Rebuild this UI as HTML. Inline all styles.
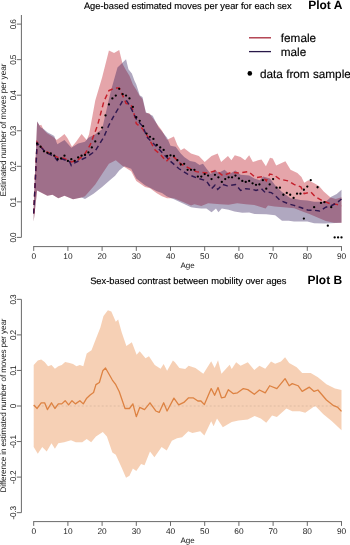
<!DOCTYPE html><html><head><meta charset="utf-8"><style>html,body{margin:0;padding:0;background:#fff;width:350px;height:545px;overflow:hidden}svg{display:block;will-change:transform}text{font-family:"Liberation Sans", sans-serif;text-rendering:geometricPrecision}</style></head><body>
<svg width="350" height="545" viewBox="0 0 350 545">
<rect width="350" height="545" fill="#fff"/>
<polygon points="33.7,205.41 37.12,121.86 39.51,125.42 41.22,124.71 43.62,129.68 47.38,133.59 52.51,136.44 54.22,137.86 56.61,139.99 61.06,136.79 64.48,133.95 67.56,138.22 72,146.75 76.11,141.77 81.58,133.95 86.71,139.99 89.1,134.31 95.26,100.53 102.1,77.43 108.94,50.41 114.07,52.9 119.2,50.05 122.62,63.92 126.04,70.32 129.46,75.65 132.88,84.53 136.3,89.87 139.72,95.91 142.46,98.75 145.88,112.98 149.3,113.33 156.82,123.64 161.95,130.39 167.08,139.64 173.92,136.44 177.34,144.97 180.76,150.3 184.18,148.17 191.02,153.5 198.89,155.99 204.7,162.03 211.54,155.99 217.7,153.5 221.12,162.03 227.96,155.99 231.38,160.26 234.8,155.28 240.61,157.06 245.06,160.26 249.16,155.28 252.92,162.03 258.05,160.26 261.47,159.55 265.92,166.3 270.02,157.77 272.76,158.48 276.18,165.59 285.41,161.32 290.54,169.86 297.38,173.05 301.49,176.97 304.22,182.65 308.33,180.16 315.17,183.72 319.27,186.21 323.72,191.54 330.56,197.58 335.69,199.01 341.5,197.23 341.5,222.82 333.98,222.82 325.77,221.05 317.56,217.49 309.35,213.94 300.46,210.74 294.3,208.25 283.36,207.18 274.47,206.47 267.97,205.41 265.58,208.6 254.29,205.05 245.74,204.34 237.19,203.27 228.64,204.69 220.09,204.34 208.12,203.27 201.28,206.12 194.44,204.34 191.02,205.41 182.47,201.85 173.92,198.3 167.08,198.3 161.95,196.16 156.82,193.32 149.98,188.34 145.02,186.92 136.3,180.88 131.17,171.28 126.04,168.08 121.94,165.41 115.78,160.26 108.94,163.81 102.1,174.12 95.26,184.43 85,196.3 81.58,197.58 73.03,199.36 64.48,195.81 58.32,198.3 52.51,194.74 47.38,195.81 40.54,192.25 37.12,190.47 33.7,221.4" fill="rgba(190,30,43,0.40)"/>
<polygon points="33.7,205.41 37.12,121.15 40.54,127.2 43.62,128.97 47.38,132.17 52.51,135.02 54.22,136.08 57.3,144.26 64.48,139.99 71.32,147.81 78.16,143.55 85,141.77 88.42,137.86 95.26,134.31 102.1,129.33 110.65,91.65 117.49,67.47 126.04,59.29 128.43,69.25 131.85,73.51 134.59,80.98 136.3,84.53 139.72,95.2 142.46,96.98 145.88,112.26 152.72,115.82 158.53,127.2 167.08,137.86 170.5,145.68 175.63,146.75 180.76,153.5 184.18,157.06 189.99,160.97 195.12,162.03 199.57,164.88 202.99,163.81 206.41,168.43 210.86,174.12 214.96,169.5 218.38,173.05 224.54,169.86 229.32,174.12 235.48,170.57 240.61,174.83 249.16,175.54 254.29,178.39 259.76,180.16 263.18,176.61 270.02,178.39 275.15,185.14 281.99,191.9 290.54,198.3 297.04,199.36 300.46,200.07 307.3,200.43 314.14,201.85 320.98,201.85 325.77,201.85 331.24,196.87 336.71,194.03 341.5,189.76 341.5,222.82 324.4,223.54 314.14,223.18 307.3,221.4 300.46,221.4 293.96,221.4 288.83,220.69 281.99,220.69 275.15,215.36 266.26,214.29 254.63,213.94 249.16,212.52 242.32,212.87 234.45,211.45 228.64,209.67 221.8,208.6 218.38,212.16 215.99,208.6 211.54,212.16 206.41,208.6 201.28,208.6 196.15,207.89 191.02,207.18 182.47,203.27 173.92,199.36 167.08,196.52 161.95,192.96 156.82,191.19 149.98,187.63 145.02,185.14 136.3,178.39 131.17,168.79 124.33,166.3 119.2,170.57 115.1,175.72 108.94,180.88 102.1,186.92 93.55,193.67 85,199.01 81.58,197.58 73.03,199.36 64.48,195.81 58.32,198.3 52.51,194.74 47.38,195.81 40.54,192.25 37.12,190.47 33.7,221.4" fill="rgba(42,20,85,0.37)"/>
<polyline points="33.7,213.58 37.12,142.13 43.96,150.3 50.8,153.86 57.64,157.41 64.48,158.48 71.32,162.03 78.16,159.9 85,153.86 90.13,144.97 97.65,125.06 103.81,101.6 108.94,90.58 114.75,88.09 119.2,88.09 122.62,95.2 126.04,103.38 131.17,105.15 133.56,111.91 136.3,123.64 142.46,128.62 147.59,136.44 155.11,149.95 160.24,154.21 166.4,161.32 170.5,157.06 173.92,157.06 180.76,163.81 187.6,167.37 196.15,171.63 207.44,173.05 215.99,170.57 222.83,175.54 231.38,172.34 238.9,173.05 248.48,171.63 255.66,177.68 262.84,176.61 266.26,180.88 269.68,174.12 273.78,174.83 279.6,179.1 288.15,180.88 293.96,184.43 300.8,186.92 304.22,193.67 310.72,191.9 315.51,196.87 322.69,200.78 329.87,203.63 336.71,204.34 341.5,205.76" fill="none" stroke="#c4202c" stroke-width="1.45" stroke-dasharray="5,3.5"/>
<polyline points="33.7,213.58 37.12,143.19 46.35,152.79 54.22,156.35 57.3,160.61 61.06,158.48 69.61,161.68 71.32,165.59 74.74,162.75 81.58,159.55 86.71,157.06 95.26,151.01 103.81,137.15 108.94,125.06 114.07,115.46 119.2,106.93 122.62,100.89 126.72,100.89 129.46,105.15 132.88,111.91 136.3,119.02 142.46,126.13 147.59,137.86 156.82,146.75 163.66,154.21 170.5,161.32 179.05,168.79 187.6,174.12 196.15,177.68 206.41,180.88 211.54,188.7 214.96,185.14 217.7,189.41 222.83,184.43 227.27,185.85 235.48,184.43 240.61,190.47 245.74,188.7 252.58,189.41 256,190.47 261.47,188.7 264.55,191.9 271.39,192.61 275.15,195.45 280.28,200.43 288.83,203.98 293.96,205.41 300.8,207.54 307.64,210.03 314.82,210.38 319.61,211.09 325.77,207.18 331.24,205.76 336.71,202.92 341.5,199.01" fill="none" stroke="#301850" stroke-width="1.45" stroke-dasharray="5,3.5"/>
<g fill="#000"><circle cx="37.12" cy="143.55" r="1.15"/><circle cx="40.54" cy="146.75" r="1.15"/><circle cx="43.96" cy="151.37" r="1.15"/><circle cx="47.38" cy="152.79" r="1.15"/><circle cx="50.8" cy="153.5" r="1.15"/><circle cx="54.22" cy="155.63" r="1.15"/><circle cx="57.64" cy="159.19" r="1.15"/><circle cx="61.06" cy="158.48" r="1.15"/><circle cx="64.48" cy="155.63" r="1.15"/><circle cx="67.9" cy="160.97" r="1.15"/><circle cx="71.32" cy="159.19" r="1.15"/><circle cx="74.74" cy="160.97" r="1.15"/><circle cx="78.16" cy="157.41" r="1.15"/><circle cx="81.58" cy="155.63" r="1.15"/><circle cx="85" cy="154.92" r="1.15"/><circle cx="88.42" cy="152.44" r="1.15"/><circle cx="91.84" cy="147.46" r="1.15"/><circle cx="95.26" cy="141.42" r="1.15"/><circle cx="98.68" cy="133.59" r="1.15"/><circle cx="102.1" cy="127.55" r="1.15"/><circle cx="105.52" cy="115.46" r="1.15"/><circle cx="108.94" cy="104.44" r="1.15"/><circle cx="112.36" cy="98.4" r="1.15"/><circle cx="115.78" cy="95.56" r="1.15"/><circle cx="119.2" cy="88.8" r="1.15"/><circle cx="122.62" cy="94.13" r="1.15"/><circle cx="126.04" cy="95.56" r="1.15"/><circle cx="129.46" cy="98.4" r="1.15"/><circle cx="132.88" cy="106.93" r="1.15"/><circle cx="136.3" cy="117.24" r="1.15"/><circle cx="139.72" cy="120.8" r="1.15"/><circle cx="143.14" cy="126.13" r="1.15"/><circle cx="146.56" cy="133.59" r="1.15"/><circle cx="149.98" cy="136.79" r="1.15"/><circle cx="153.4" cy="138.93" r="1.15"/><circle cx="156.82" cy="144.97" r="1.15"/><circle cx="160.24" cy="147.46" r="1.15"/><circle cx="163.66" cy="149.95" r="1.15"/><circle cx="167.08" cy="155.99" r="1.15"/><circle cx="170.5" cy="155.28" r="1.15"/><circle cx="173.92" cy="155.99" r="1.15"/><circle cx="177.34" cy="160.26" r="1.15"/><circle cx="180.76" cy="164.52" r="1.15"/><circle cx="184.18" cy="163.81" r="1.15"/><circle cx="187.6" cy="169.86" r="1.15"/><circle cx="191.02" cy="169.86" r="1.15"/><circle cx="194.44" cy="169.86" r="1.15"/><circle cx="197.86" cy="176.61" r="1.15"/><circle cx="201.28" cy="176.61" r="1.15"/><circle cx="204.7" cy="174.12" r="1.15"/><circle cx="208.12" cy="175.54" r="1.15"/><circle cx="211.54" cy="179.1" r="1.15"/><circle cx="214.96" cy="174.83" r="1.15"/><circle cx="218.38" cy="177.32" r="1.15"/><circle cx="221.8" cy="181.94" r="1.15"/><circle cx="225.22" cy="179.1" r="1.15"/><circle cx="228.64" cy="177.32" r="1.15"/><circle cx="232.06" cy="177.32" r="1.15"/><circle cx="235.48" cy="175.54" r="1.15"/><circle cx="238.9" cy="178.39" r="1.15"/><circle cx="242.32" cy="180.88" r="1.15"/><circle cx="245.74" cy="181.94" r="1.15"/><circle cx="249.16" cy="180.88" r="1.15"/><circle cx="252.58" cy="183.36" r="1.15"/><circle cx="256" cy="184.79" r="1.15"/><circle cx="259.42" cy="184.43" r="1.15"/><circle cx="262.84" cy="180.16" r="1.15"/><circle cx="266.26" cy="188.7" r="1.15"/><circle cx="269.68" cy="184.43" r="1.15"/><circle cx="273.1" cy="179.1" r="1.15"/><circle cx="276.52" cy="187.63" r="1.15"/><circle cx="279.94" cy="187.63" r="1.15"/><circle cx="283.36" cy="194.74" r="1.15"/><circle cx="286.78" cy="192.96" r="1.15"/><circle cx="290.2" cy="194.74" r="1.15"/><circle cx="293.62" cy="197.94" r="1.15"/><circle cx="297.04" cy="193.67" r="1.15"/><circle cx="300.46" cy="193.67" r="1.15"/><circle cx="303.88" cy="189.76" r="1.15"/><circle cx="307.3" cy="186.56" r="1.15"/><circle cx="310.72" cy="180.16" r="1.15"/><circle cx="314.14" cy="207.18" r="1.15"/><circle cx="317.56" cy="187.27" r="1.15"/><circle cx="320.98" cy="202.92" r="1.15"/><circle cx="324.4" cy="202.21" r="1.15"/><circle cx="327.82" cy="225.67" r="1.15"/><circle cx="331.24" cy="207.18" r="1.15"/><circle cx="334.66" cy="237.4" r="1.15"/><circle cx="338.08" cy="237.4" r="1.15"/><circle cx="341.5" cy="237.4" r="1.15"/><circle cx="303.88" cy="218.56" r="1.15"/></g>
<g stroke="#6a6a6a" stroke-width="1" fill="none">
<line x1="21.4" y1="15" x2="21.4" y2="237.4"/>
<line x1="16.8" y1="237.4" x2="21.4" y2="237.4"/>
<line x1="16.8" y1="201.85" x2="21.4" y2="201.85"/>
<line x1="16.8" y1="166.3" x2="21.4" y2="166.3"/>
<line x1="16.8" y1="130.75" x2="21.4" y2="130.75"/>
<line x1="16.8" y1="95.2" x2="21.4" y2="95.2"/>
<line x1="16.8" y1="59.65" x2="21.4" y2="59.65"/>
<line x1="16.8" y1="24.1" x2="21.4" y2="24.1"/>
<line x1="33.7" y1="246.6" x2="341.5" y2="246.6"/>
<line x1="33.7" y1="246.1" x2="33.7" y2="250.9"/>
<line x1="67.9" y1="246.1" x2="67.9" y2="250.9"/>
<line x1="102.1" y1="246.1" x2="102.1" y2="250.9"/>
<line x1="136.3" y1="246.1" x2="136.3" y2="250.9"/>
<line x1="170.5" y1="246.1" x2="170.5" y2="250.9"/>
<line x1="204.7" y1="246.1" x2="204.7" y2="250.9"/>
<line x1="238.9" y1="246.1" x2="238.9" y2="250.9"/>
<line x1="273.1" y1="246.1" x2="273.1" y2="250.9"/>
<line x1="307.3" y1="246.1" x2="307.3" y2="250.9"/>
<line x1="341.5" y1="246.1" x2="341.5" y2="250.9"/>
</g>
<g font-size="8.3" fill="#1a1a1a" text-anchor="middle"><text transform="translate(15.5,237.4) rotate(-90)" textLength="10.2">0.0</text><text transform="translate(15.5,201.85) rotate(-90)" textLength="10.2">0.1</text><text transform="translate(15.5,166.3) rotate(-90)" textLength="10.2">0.2</text><text transform="translate(15.5,130.75) rotate(-90)" textLength="10.2">0.3</text><text transform="translate(15.5,95.2) rotate(-90)" textLength="10.2">0.4</text><text transform="translate(15.5,59.65) rotate(-90)" textLength="10.2">0.5</text><text transform="translate(15.5,24.1) rotate(-90)" textLength="10.2">0.6</text><text x="33.7" y="258.8">0</text><text x="67.9" y="258.8">10</text><text x="102.1" y="258.8">20</text><text x="136.3" y="258.8">30</text><text x="170.5" y="258.8">40</text><text x="204.7" y="258.8">50</text><text x="238.9" y="258.8">60</text><text x="273.1" y="258.8">70</text><text x="307.3" y="258.8">80</text><text x="341.5" y="258.8">90</text></g>
<text x="187.6" y="268.4" font-size="8" fill="#1a1a1a" text-anchor="middle">Age</text>
<text transform="translate(6,130) rotate(-90)" font-size="8.3" textLength="133" fill="#1a1a1a" text-anchor="middle">Estimated number of moves per year</text>
<text x="187.8" y="8.7" font-size="9.3" fill="#000" stroke="#000" stroke-width="0.15" text-anchor="middle">Age-based estimated moves per year for each sex</text>
<text x="308.2" y="8.6" font-size="12" font-weight="bold" fill="#000">Plot A</text>
<line x1="249" y1="37.8" x2="271" y2="37.8" stroke="#a82838" stroke-width="1.3"/>
<line x1="249" y1="51.6" x2="271" y2="51.6" stroke="#281848" stroke-width="1.3"/>
<circle cx="249.8" cy="73.4" r="2.3" fill="#000"/>
<g font-size="11.75" fill="#000" stroke="#000" stroke-width="0.15"><text x="280.8" y="42.1">female</text><text x="280.8" y="55.5">male</text><text x="260" y="77.5">data from sample</text></g>
<polygon points="33.7,365.12 37.8,360.5 41.22,359.43 44.64,361.92 48.06,366.18 51.48,365.12 54.9,368.67 58.32,366.18 61.74,365.12 65.16,361.92 69.61,362.98 73.03,364.05 76.45,366.18 79.87,365.12 83.29,366.18 86.71,353.39 91.5,350.19 95.94,338.81 100.39,327.43 103.47,316.06 107.91,310.37 111.33,311.44 115.78,321.75 118.17,319.61 121.59,332.06 126.38,345.92 131.85,342.37 136.64,354.81 139.72,351.25 145.53,358.36 148.95,356.23 154.77,365.12 160.58,368.67 163.66,364.05 167.08,370.81 172.89,360.5 174.95,362.27 179.39,367.96 185.21,369.03 188.63,365.83 195.47,367.96 203.33,373.65 211.2,361.21 214.62,367.96 218.04,360.14 221.46,373.65 229.67,364.76 231.72,369.03 236.16,362.27 240.61,365.83 247.79,362.27 254.29,370.09 259.42,365.83 265.23,368.67 271.05,361.56 275.15,363.7 280.97,361.56 285.07,357.3 289.17,362.98 296.7,367.25 302.17,372.94 310.72,372.94 317.9,377.2 326.45,384.31 335,388.58 341.5,390 341.5,430.17 331.92,421.29 323.37,414.18 315.17,405.64 305.25,412.75 299.78,411.33 292.25,411.33 286.44,408.49 276.86,417.02 272.07,415.6 266.26,422.71 260.79,418.44 254.63,415.95 247.79,419.51 238.56,420.58 231.72,422 222.83,427.33 217.01,418.44 213.59,426.26 211.2,421.29 204.36,435.51 200.25,431.24 192.39,433.02 188.28,431.24 182.13,437.28 177,438.35 171.87,440.84 166.74,450.44 161.61,446.88 154.43,457.19 149.98,451.5 144.51,465.37 141.09,463.95 136.3,471.06 132.88,468.57 129.46,475.68 126.04,477.81 121.59,467.5 115.78,454.7 112.36,452.57 106.89,436.57 102.78,431.95 95.94,436.57 91.16,442.26 86.71,439.06 82.26,442.26 75.77,442.26 70.98,440.13 64.14,442.26 58.32,443.33 54.9,448.66 51.48,443.33 46.7,451.5 42.25,446.88 37.8,453.64 33.7,446.88" fill="rgba(235,150,92,0.45)"/>
<line x1="33.7" y1="406" x2="341.5" y2="406" stroke="#d9b8a0" stroke-width="0.8" stroke-dasharray="2,2"/>
<polyline points="33.7,404.93 37.12,408.49 41.22,402.8 44.64,402.8 47.38,409.56 51.48,402.8 54.9,408.49 58.32,403.87 61.74,403.87 65.16,400.67 68.58,404.93 72,400.67 75.42,403.87 79.87,400.67 83.29,403.87 86.71,398.18 90.13,394.98 93.55,392.49 95.94,384.67 99.36,382.54 102.78,370.81 105.52,367.96 112.36,380.05 115.78,384.67 119.2,391.42 125.01,408.49 129.46,408.49 132.88,403.87 136.3,416.67 139.72,407.42 144.51,409.56 149.98,402.8 155.79,410.98 159.21,412.4 163.66,402.8 167.08,410.98 173.92,398.18 178.71,404.93 183.84,402.44 188.63,397.82 193.07,397.82 197.86,401.02 200.94,401.02 204.36,404.58 211.2,388.58 214.62,395.33 218.04,387.51 221.46,397.82 224.88,397.11 228.3,389.65 233.09,393.56 237.53,392.85 243.35,388.58 247.79,389.65 254.29,394.27 259.42,390 265.23,392.85 269.68,385.74 276.86,388.58 285.07,378.63 289.17,385.74 292.25,383.6 298.07,385.74 302.17,391.42 309.35,387.16 314.14,391.42 317.9,390 326.45,399.96 333.63,405.64 337.4,407.07 341.5,411.33" fill="none" stroke="#dd8242" stroke-width="1.3" stroke-linejoin="round"/>
<g stroke="#6a6a6a" stroke-width="1" fill="none">
<line x1="21.4" y1="299.35" x2="21.4" y2="512.65"/>
<line x1="16.8" y1="512.65" x2="21.4" y2="512.65"/>
<line x1="16.8" y1="477.1" x2="21.4" y2="477.1"/>
<line x1="16.8" y1="441.55" x2="21.4" y2="441.55"/>
<line x1="16.8" y1="406" x2="21.4" y2="406"/>
<line x1="16.8" y1="370.45" x2="21.4" y2="370.45"/>
<line x1="16.8" y1="334.9" x2="21.4" y2="334.9"/>
<line x1="16.8" y1="299.35" x2="21.4" y2="299.35"/>
<line x1="33.7" y1="521.6" x2="341.5" y2="521.6"/>
<line x1="33.7" y1="521.1" x2="33.7" y2="525.9"/>
<line x1="67.9" y1="521.1" x2="67.9" y2="525.9"/>
<line x1="102.1" y1="521.1" x2="102.1" y2="525.9"/>
<line x1="136.3" y1="521.1" x2="136.3" y2="525.9"/>
<line x1="170.5" y1="521.1" x2="170.5" y2="525.9"/>
<line x1="204.7" y1="521.1" x2="204.7" y2="525.9"/>
<line x1="238.9" y1="521.1" x2="238.9" y2="525.9"/>
<line x1="273.1" y1="521.1" x2="273.1" y2="525.9"/>
<line x1="307.3" y1="521.1" x2="307.3" y2="525.9"/>
<line x1="341.5" y1="521.1" x2="341.5" y2="525.9"/>
</g>
<g font-size="8.3" fill="#1a1a1a" text-anchor="middle"><text transform="translate(15.5,512.65) rotate(-90)" textLength="13.6">-0.3</text><text transform="translate(15.5,477.1) rotate(-90)" textLength="13.6">-0.2</text><text transform="translate(15.5,441.55) rotate(-90)" textLength="13.6">-0.1</text><text transform="translate(15.5,406) rotate(-90)">0</text><text transform="translate(15.5,370.45) rotate(-90)" textLength="10.2">0.1</text><text transform="translate(15.5,334.9) rotate(-90)" textLength="10.2">0.2</text><text transform="translate(15.5,299.35) rotate(-90)" textLength="10.2">0.3</text><text x="33.7" y="533.8">0</text><text x="67.9" y="533.8">10</text><text x="102.1" y="533.8">20</text><text x="136.3" y="533.8">30</text><text x="170.5" y="533.8">40</text><text x="204.7" y="533.8">50</text><text x="238.9" y="533.8">60</text><text x="273.1" y="533.8">70</text><text x="307.3" y="533.8">80</text><text x="341.5" y="533.8">90</text></g>
<text x="187.6" y="543.4" font-size="8" fill="#1a1a1a" text-anchor="middle">Age</text>
<text transform="translate(6,405.5) rotate(-90)" font-size="8.1" textLength="174" fill="#1a1a1a" text-anchor="middle">Difference in estimated number of moves per year</text>
<text x="188.3" y="283.6" font-size="9.35" fill="#000" stroke="#000" stroke-width="0.15" text-anchor="middle">Sex-based contrast between mobility over ages</text>
<text x="307.5" y="283.9" font-size="12" font-weight="bold" fill="#000">Plot B</text>
</svg></body></html>
